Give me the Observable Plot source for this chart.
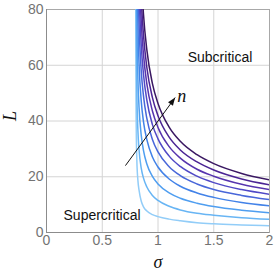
<!DOCTYPE html>
<html>
<head>
<meta charset="utf-8">
<script src="https://cdn.jsdelivr.net/npm/d3@7"></script>
<script src="https://cdn.jsdelivr.net/npm/@observablehq/plot@0.6"></script>
<style>
  html, body { margin: 0; padding: 0; background: #fff; }
  #chart svg { display: block; }
</style>
</head>
<body>
<div id="chart"></div>
<script>
// sigma sample positions (shared by every curve)
const sigma = [0.801, 0.803, 0.805, 0.81, 0.82, 0.83, 0.85, 0.87, 0.9, 0.95, 1.0, 1.1, 1.2, 1.35, 1.5, 1.75, 2.0];

// L values (n increasing: light blue -> dark purple)
const L_n1 = [83.1, 48.0, 37.2, 26.3, 18.6, 15.2, 11.2, 9.2, 7.7, 6.4, 5.7, 4.8, 4.2, 3.5, 3.1, 2.7, 2.4];
const L_n2 = [166, 94, 72.8, 51.5, 36.4, 29.7, 23.0, 19.5, 16.3, 13.3, 11.5, 9.4, 8.1, 6.9, 6.2, 5.3, 4.7];
const L_n3 = [246, 142, 110, 77.7, 55.0, 44.9, 34.8, 29.4, 24.6, 20.1, 17.4, 14.2, 12.3, 10.5, 9.3, 8.0, 7.1];
const L_n4 = [333, 192, 148.7, 105.1, 74.4, 60.7, 47.0, 39.7, 33.3, 27.1, 23.5, 19.2, 16.6, 14.2, 12.6, 10.8, 9.6];
const L_n5 = [409, 236, 182.8, 129.2, 91.4, 74.6, 57.8, 48.9, 40.9, 33.4, 28.9, 23.6, 20.4, 17.4, 15.4, 13.3, 11.8];
const L_n6 = [474.6, 274, 212.2, 150, 106.1, 86.7, 67.1, 56.7, 47.5, 38.7, 33.6, 27.4, 23.7, 20.2, 17.9, 15.4, 13.7];
const L_n7 = [533, 308, 238.5, 168.6, 119.3, 97.4, 75.4, 63.8, 53.3, 43.6, 37.7, 30.8, 26.7, 22.7, 20.2, 17.3, 15.4];
const L_n8 = [592, 342, 264.9, 187.2, 132.5, 108.2, 83.8, 70.8, 59.2, 48.4, 41.9, 34.2, 29.6, 25.3, 22.4, 19.2, 17.1];
const L_n9 = [654.7, 378, 292.8, 207, 146.4, 119.5, 92.6, 78.2, 65.5, 53.4, 46.3, 37.8, 32.7, 27.9, 24.7, 21.2, 18.9];

const curves = [L_n1, L_n2, L_n3, L_n4, L_n5, L_n6, L_n7, L_n8, L_n9];
const curveColors = ["#92cdf8", "#68b5f4", "#4f9ef0", "#4282e8", "#4866d9", "#5049c6", "#5634ae", "#4b2594", "#3a1862"];

const xTicks = [0, 0.5, 1, 1.5, 2];
const yTicks = [0, 20, 40, 60, 80];

// annotations (data coordinates)
const labels = [
  {x: 1.556, y: 62.6, text: "Subcritical"},
  {x: 0.498, y: 6.1, text: "Supercritical"}
];
const nLabel = [{x: 1.212, y: 48.8, text: "n"}];
const arrow = [{x1: 0.708, y1: 24.0, x2: 1.154, y2: 48.4}];

const table = [];
curves.forEach((Ls, i) => {
  Ls.forEach((L, j) => table.push({sigma: sigma[j], L, n: i, color: curveColors[i]}));
});

const font = "'Liberation Sans', Arial, Helvetica, sans-serif";
const serif = "'Liberation Serif', 'DejaVu Serif', 'Times New Roman', serif";

const chart = Plot.plot({
  width: 274,
  height: 280,
  marginLeft: 46,
  marginRight: 5,
  marginTop: 9,
  marginBottom: 48,
  style: {fontFamily: font, background: "#fff"},
  x: {domain: [0, 2]},
  y: {domain: [0, 80]},
  color: {type: "identity"},
  marks: [
    Plot.gridX(xTicks, {stroke: "#d4d4d4", strokeOpacity: 1}),
    Plot.gridY(yTicks, {stroke: "#d4d4d4", strokeOpacity: 1}),
    Plot.frame({stroke: "#a8a8a8"}),
    Plot.axisX(xTicks, {tickSize: 0, tickPadding: 3, fontSize: 14, fill: "#737373", tickFormat: d => String(d), label: null}),
    Plot.axisY(yTicks, {tickSize: 0, tickPadding: 3, fontSize: 14, fill: "#737373", tickFormat: d => String(d), label: null}),
    Plot.ruleX([0], {stroke: "#8c8c8c"}),
    Plot.ruleY([0], {stroke: "#8c8c8c"}),
    Plot.line(table, {x: "sigma", y: "L", z: "n", stroke: "color", strokeWidth: 1.5, curve: "monotone-x", clip: true}),
    Plot.text(labels, {x: "x", y: "y", text: "text", fontSize: 14, fill: "#111", textAnchor: "middle"}),
    Plot.text(nLabel, {x: "x", y: "y", text: "text", fontSize: 18, fontStyle: "italic", fontFamily: serif, fill: "#111"}),
    Plot.link(arrow, {x1: "x1", y1: "y1", x2: "x2", y2: "y2", stroke: "#111", strokeWidth: 1}),
    Plot.vector(arrow, {x: "x2", y: "y2", length: 8, r: 3, rotate: 36, shape: "spike", anchor: "end", fill: "#111", stroke: "none"}),
    Plot.text(["σ"], {frameAnchor: "bottom", dy: 35, fontSize: 18, fontStyle: "italic", fontFamily: serif, fill: "#111"}),
    Plot.text(["L"], {frameAnchor: "left", dx: -36, rotate: -90, fontSize: 18, fontStyle: "italic", fontFamily: serif, fill: "#111"})
  ]
});
document.getElementById("chart").appendChild(chart);
</script>
</body>
</html>
